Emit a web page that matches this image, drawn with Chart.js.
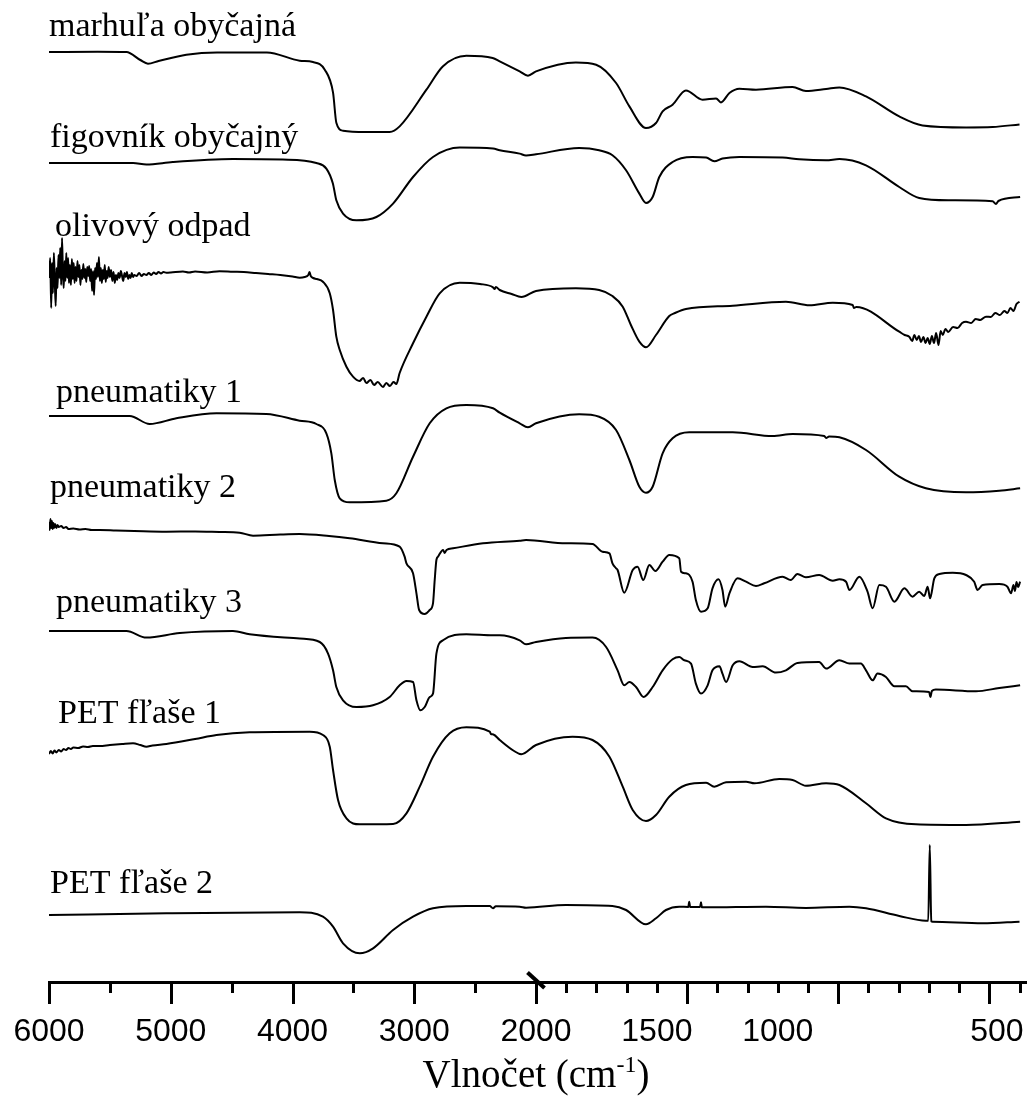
<!DOCTYPE html>
<html lang="sk">
<head>
  <meta charset="UTF-8" />
  <title>IR spektrá</title>
  <script src="https://cdn.jsdelivr.net/npm/chart.js"></script>
  <style>
    html, body { margin: 0; padding: 0; background: #fff; }
    #wrap { width: 1027px; height: 1097px; position: relative; }
  </style>
</head>
<body>
  <div id="wrap"><canvas id="spectra"></canvas></div>

  <script>
    // sample names, top to bottom
    const names = ['marhuľa obyčajná', 'figovník obyčajný', 'olivový odpad', 'pneumatiky 1',
                   'pneumatiky 2', 'pneumatiky 3', 'PET fľaše 1', 'PET fľaše 2'];

    // vertical offset of each spectrum (arbitrary units)
    const offsets = [930, 819, 709, 566, 457, 351, 232, 67];

    // [wavenumber cm-1, relative transmittance]
    const marhula = [[6000,0],[5600,0.3],[5364,0],[5250,-8],[5187,-11.7],[5100,-9],[4872,-2.7],[4620,-0.4],[4210,-0.4],
      [3941,-8.7],[3832,-10],[3735,-17.7],[3667,-40.7],[3640,-70.7],[3585,-78.7],[3400,-80],[3202,-80],[3120,-74.4],
      [2900,-37.7],[2766,-14.4],[2572,-3.7],[2356,-6],[2298,-9.4],[2134,-19.4],[2066,-23.7],[2000,-19.4],[1868,-10.4],
      [1801,-12.7],[1735,-31],[1691,-54.4],[1636,-76],[1603,-71],[1581,-59.4],[1548,-52.7],[1504,-38.4],[1449,-47.7],
      [1404,-46.4],[1388,-50.4],[1360,-41],[1327,-36.7],[1272,-37.7],[1151,-35],[1107,-39],[1040,-37],[996,-35.4],
      [908,-44.4],[798,-64.4],[721,-73.4],[577,-75.4],[489,-75],[400,-72.4]];

    const figovnik = [[6000,0],[5310,0],[5200,-1.6],[4984,1],[4490,4],[4080,3.4],[3804,0],[3722,-5.6],[3669,-20.3],
      [3640,-37.3],[3585,-50.6],[3475,-57.3],[3311,-54],[3174,-40.6],[3010,-14],[2846,6],[2627,15.4],[2353,14.4],
      [2298,12.7],[2134,9.4],[2082,7.4],[2000,8.7],[1857,15],[1791,12.7],[1747,7.7],[1702,-7.3],[1658,-30.6],
      [1636,-40],[1614,-34],[1592,-14],[1548,1],[1482,6],[1437,5.4],[1410,1.7],[1383,4.4],[1327,6],[1184,5.4],
      [1129,3.7],[1040,2.7],[996,4],[908,-2.3],[798,-24],[732,-35],[632,-37.3],[489,-38.3],[478,-41],[470,-38],[398,-34]];

    const olivovy = [[6000,-5],[5990,15],[5982,-35],[5975,10],[5968,-20],[5960,20],[5952,-10],[5945,-33],[5938,5],
      [5930,-15],[5922,18],[5915,-5],[5908,25],[5900,-12],[5893,35],[5886,0],[5879,-15],[5872,12],[5865,-8],[5858,20],
      [5850,-5],[5843,15],[5836,-10],[5828,8],[5820,-12],[5812,14],[5805,-6],[5797,10],[5790,-10],[5782,6],[5774,-8],
      [5766,12],[5758,-4],[5750,8],[5742,-12],[5734,3],[5726,-6],[5718,9],[5710,-5],[5702,4],[5694,-9],[5686,6],
      [5678,-3],[5670,7],[5662,-8],[5654,4],[5646,-18],[5638,2],[5630,-22],[5622,5],[5614,-6],[5606,10],[5598,-4],
      [5590,16],[5582,-8],[5574,5],[5566,-10],[5558,3],[5550,-6],[5542,8],[5534,-9],[5526,2],[5518,-5],[5510,6],
      [5500,-4],[5490,3],[5480,-8],[5470,1],[5460,-10],[5450,-2],[5440,-7],[5430,0],[5420,-5],[5410,2],[5400,-3],
      [5390,-8],[5380,0],[5370,-4],[5360,1],[5350,-6],[5340,-2],[5330,-5],[5320,0],[5310,-4],[5300,-2],[5280,-3],
      [5260,0],[5240,-3],[5220,-1],[5200,-2],[5180,0],[5160,-2],[5140,0.5],[5120,-1],[5100,1],[5080,-0.5],[5060,1],
      [5036,0.3],[5000,0.5],[4900,1.5],[4850,0.5],[4800,1.5],[4700,0.5],[4600,1.8],[4490,1.3],[4400,1],[4300,0],
      [4200,-1],[4100,-2],[4000,-3.5],[3941,-4.7],[3900,-4],[3870,-2],[3860,1],[3850,-3],[3830,-5],[3800,-6],
      [3750,-8.7],[3694,-20.3],[3667,-37],[3640,-63.7],[3612,-77],[3557,-93.7],[3503,-103.7],[3450,-108],[3420,-105],
      [3393,-110],[3360,-107],[3330,-112],[3300,-109],[3257,-114],[3230,-110],[3200,-113],[3170,-109],[3147,-111],
      [3120,-100],[3010,-70.3],[2900,-43.7],[2791,-20.3],[2627,-9.7],[2460,-11],[2353,-14.3],[2340,-16],[2330,-14],
      [2298,-17],[2200,-21],[2120,-24],[2000,-18],[1868,-15.3],[1791,-17],[1747,-23],[1713,-33.7],[1686,-52],
      [1658,-68.7],[1636,-74.3],[1603,-62],[1559,-43],[1540,-40],[1504,-36],[1349,-32.7],[1173,-28.7],[1095,-32.3],
      [1018,-29.7],[952,-32],[948,-35],[940,-34],[798,-58.7],[780,-62],[765,-63.7],[755,-68],[748,-62],[740,-67],
      [733,-63],[726,-69],[718,-64],[711,-70],[704,-65],[697,-71],[690,-63],[683,-70],[676,-60],[668,-72],[661,-58],
      [654,-62],[645,-56],[636,-59],[620,-54],[605,-55],[590,-50],[577,-48.7],[560,-50],[545,-46],[530,-47],
      [511,-43.7],[495,-44],[480,-40],[465,-42],[450,-38],[440,-40],[430,-35],[420,-38],[410,-31],[400,-28.7]];

    const pneu1 = [[6000,0],[5337,0],[5173,-8],[4954,-2.3],[4625,2.7],[4215,2],[3941,-4.7],[3804,-8],[3722,-17.3],
      [3681,-37.3],[3653,-64],[3612,-82.3],[3530,-86.3],[3229,-84.7],[3147,-77.3],[3010,-40.7],[2873,-7.3],[2736,7.7],
      [2572,11],[2353,7.7],[2298,3.3],[2134,-7.3],[2066,-11.3],[2000,-7.3],[1857,1.7],[1791,-0.7],[1735,-14],
      [1691,-44],[1658,-70.7],[1636,-76.7],[1614,-70.7],[1581,-37.3],[1548,-22.3],[1493,-16.3],[1349,-16.3],
      [1217,-20],[1151,-18],[1046,-20],[1040,-22],[1030,-20.5],[996,-21.3],[908,-34],[798,-60.7],[710,-72.3],
      [577,-76.3],[467,-74.7],[398,-72.3]];

    const pneu2 = [[6000,3],[5994,-5],[5988,6],[5982,-3],[5976,4],[5970,-4],[5964,2],[5958,-3],[5950,1],[5940,-3],
      [5930,0],[5920,-2],[5900,-1],[5880,-3],[5860,-2],[5840,-4],[5800,-3.5],[5750,-4.5],[5700,-4],[5650,-5],
      [5583,-5],[5450,-5.5],[5300,-6],[5036,-6.7],[4800,-6.5],[4600,-7],[4434,-7.7],[4324,-10.7],[4100,-9.5],
      [3941,-9],[3700,-11],[3530,-13.3],[3257,-18.3],[3120,-21.7],[3079,-31.7],[3064,-38.3],[3010,-48.3],
      [2982,-68.3],[2960,-85],[2914,-89],[2873,-85],[2846,-78.3],[2832,-55],[2818,-35],[2805,-31.7],[2763,-25],
      [2750,-28],[2735,-25],[2681,-23.3],[2435,-18.3],[2134,-15.7],[2082,-15],[1901,-18.3],[1813,-19],[1780,-26.7],
      [1757,-28.3],[1747,-38.3],[1735,-43.3],[1730,-45],[1708,-67.7],[1680,-45],[1664,-41.7],[1645,-55],[1625,-40],
      [1605,-46],[1581,-36.7],[1559,-30],[1526,-33.3],[1520,-46.7],[1504,-48.3],[1482,-56.7],[1471,-75],[1454,-86.7],
      [1432,-83.3],[1416,-63.3],[1396,-54.3],[1383,-65],[1374,-81.7],[1360,-68.3],[1333,-53.3],[1305,-56.7],
      [1272,-61],[1245,-58.3],[1184,-51.7],[1157,-55],[1135,-49],[1107,-52.3],[1063,-50],[1018,-55.7],[996,-54.3],
      [974,-56.7],[963,-65],[930,-51.7],[903,-66.7],[886,-83.3],[864,-60],[842,-61.7],[814,-76.7],[781,-63.3],
      [754,-71.7],[732,-66.7],[715,-71],[704,-61.7],[696,-73.3],[682,-53.3],[665,-49],[621,-47.7],[577,-50],
      [550,-56.7],[539,-65],[522,-60],[467,-59],[440,-61.7],[428,-68.3],[420,-60],[415,-66],[410,-57],[405,-62],
      [398,-56.7]];

    const pneu3 = [[6000,0],[5364,0],[5200,-6.6],[4926,-2],[4489,0],[4352,-3.3],[3941,-7.6],[3776,-11],[3708,-22.6],
      [3667,-39.3],[3640,-56],[3585,-69.3],[3475,-76],[3339,-74.3],[3202,-66],[3120,-54.3],[3064,-50],[3010,-51],
      [2982,-69.3],[2950,-79.3],[2914,-76],[2873,-66],[2846,-62.6],[2818,-22.6],[2764,-9.3],[2572,-3.3],[2353,-4.3],
      [2298,-4.3],[2134,-9.3],[2082,-13.3],[2000,-11],[1901,-7],[1813,-6.6],[1768,-16],[1730,-39.3],[1708,-54.3],
      [1691,-51],[1669,-56],[1644,-66],[1614,-56],[1581,-39.3],[1548,-28.3],[1526,-26],[1509,-29.3],[1487,-32.6],
      [1471,-52.6],[1454,-62.6],[1432,-54.3],[1416,-39.3],[1393,-35.3],[1383,-42.6],[1371,-51],[1349,-34.3],
      [1327,-30.3],[1283,-36],[1250,-35.3],[1206,-41.6],[1173,-39.3],[1135,-32],[1063,-31],[1040,-37.6],[996,-29.3],
      [963,-32.6],[925,-32.6],[908,-39.3],[886,-49.3],[870,-42.6],[842,-46],[814,-55.3],[776,-55.3],[754,-60.3],
      [699,-61],[695,-66],[690,-60],[677,-58.6],[544,-60.3],[467,-57],[398,-54.3]];

    const pet1 = [[6000,-4],[5985,-1],[5970,-3.5],[5955,-0.5],[5940,-2.5],[5920,0],[5900,-1.5],[5880,1],[5860,0],
      [5840,2],[5820,1],[5800,2.5],[5760,2],[5720,3.5],[5680,3],[5640,4],[5584,4],[5500,5],[5400,6],[5310,6.7],
      [5250,5],[5200,3.3],[5150,4.5],[5036,6],[4800,11],[4625,15],[4352,17.7],[3859,18.3],[3750,15],[3694,3.3],
      [3667,-20],[3626,-50],[3557,-68.3],[3447,-74.3],[3174,-74],[3064,-63.3],[2955,-36.7],[2846,-6.7],[2709,16.7],
      [2572,22.7],[2380,18.3],[2370,16],[2350,15.5],[2298,10],[2180,-1],[2121,-4.3],[2000,5],[1879,13.3],[1813,10],
      [1757,-6.7],[1713,-36.7],[1680,-60],[1636,-71],[1603,-65],[1559,-46.7],[1504,-35],[1437,-32.7],[1410,-36.7],
      [1371,-32.3],[1305,-31.7],[1277,-33.3],[1195,-29],[1151,-30],[1107,-35.7],[1040,-33.3],[996,-35],[908,-53.3],
      [842,-68.3],[743,-74.3],[577,-75],[398,-71.7]];

    const pet2 = [[6000,0],[5036,1.7],[3941,2.7],[3750,-1.7],[3667,-11.7],[3585,-28.3],[3447,-38.3],[3338,-33.3],
      [3174,-15],[3010,-1.7],[2846,6.7],[2572,9],[2380,9],[2353,6.7],[2330,8.7],[2134,8.3],[2082,7.3],[1901,10],
      [1747,9],[1702,5],[1636,-9.3],[1603,-3.3],[1570,5],[1526,8.3],[1496,8],[1493,13.3],[1490,8],[1457,8],
      [1454,12.7],[1451,7.7],[1437,7.7],[1239,8.3],[1107,7],[963,8.3],[908,6.7],[798,-1],[710,-5.7],[702,-5.7],
      [697,70],[692,-6.3],[688,-6.7],[522,-8.3],[400,-6.7]];

    const spectra = [marhula, figovnik, olivovy, pneu1, pneu2, pneu3, pet1, pet2];

    // axis ticks (cm-1); the axis is broken at 2000
    const majorTicks = [6000, 5000, 4000, 3000, 2000, 1500, 1000, 500];
    const minorTicks = [5500, 4500, 3500, 2500, 1900, 1800, 1700, 1600, 1400, 1300, 1200, 1100,
                        900, 800, 700, 600, 400];
    // where the printed tick numbers sit along the axis (as in the original figure)
    const tickLabels = ['6000', '5000', '4000', '3000', '2000', '1500', '1000', '500'];
    const tickLabelAt = [6000, 5000, 4000, 3000, 2000, 1600, 1200, 475];

    // broken axis: 6000-2000 compressed, 2000-380 expanded
    function toAxis(w) {
      return w >= 2000 ? (6000 - w) * 0.12175 : 487 + (2000 - w) * 0.3022;
    }

    // label placement relative to the start of each trace (px)
    const labelShift = [[0, 16], [1, 16], [6, 37], [7, 14], [1, 28], [7, 19], [9, 27], [1, 22]];

    const decor = {
      id: 'decor',
      afterDraw(chart) {
        const { ctx, chartArea } = chart;
        const x = chart.scales.x, y = chart.scales.y;
        const base = chartArea.bottom;
        ctx.save();
        ctx.strokeStyle = '#000';
        ctx.lineWidth = 3;
        const tick = (w, len) => {
          const px = Math.round(x.getPixelForValue(toAxis(w))) + 0.5;
          ctx.beginPath();
          ctx.moveTo(px, base);
          ctx.lineTo(px, base + len);
          ctx.stroke();
        };
        majorTicks.forEach(w => tick(w, 22));
        minorTicks.forEach(w => tick(w, 11));
        // break mark
        const bx = x.getPixelForValue(toAxis(2000));
        ctx.lineWidth = 4;
        ctx.beginPath();
        ctx.moveTo(bx - 8.5, base - 9.5);
        ctx.lineTo(bx + 8.5, base + 6);
        ctx.stroke();

        // sample names
        ctx.fillStyle = '#000';
        ctx.font = '34px "Liberation Serif"';
        ctx.textBaseline = 'alphabetic';
        ctx.textAlign = 'left';
        names.forEach((n, i) => {
          ctx.fillText(n, x.getPixelForValue(0) + labelShift[i][0],
                       y.getPixelForValue(offsets[i]) - labelShift[i][1]);
        });

        // axis title with superscript
        const main = 'Vlnočet (cm', sup = '-1', end = ')';
        const bigFont = '39px "Liberation Serif"', smallFont = '24px "Liberation Serif"';
        ctx.font = bigFont;
        const w1 = ctx.measureText(main).width, w3 = ctx.measureText(end).width;
        ctx.font = smallFont;
        const w2 = ctx.measureText(sup).width;
        const tx = x.getPixelForValue(toAxis(2000)) - (w1 + w2 + w3) / 2;
        const ty = 1087;
        ctx.font = bigFont;
        ctx.fillText(main, tx, ty);
        ctx.font = smallFont;
        ctx.fillText(sup, tx + w1, ty - 15);
        ctx.font = bigFont;
        ctx.fillText(end, tx + w1 + w2, ty);
        ctx.restore();
      }
    };

    const datasets = spectra.map((s, i) => ({
      label: names[i],
      data: s.map(([w, v]) => ({ x: toAxis(w), y: offsets[i] + v })),
      borderColor: '#000',
      borderWidth: 2,
      pointRadius: 0,
      fill: false,
      cubicInterpolationMode: 'monotone'
    }));

    new Chart(document.getElementById('spectra'), {
      type: 'line',
      data: { datasets },
      options: {
        responsive: true,
        maintainAspectRatio: false,
        animation: false,
        devicePixelRatio: 1,
        layout: { padding: { left: 49, right: 1, top: 0, bottom: 0 } },
        plugins: { legend: { display: false }, tooltip: { enabled: false } },
        scales: {
          x: {
            type: 'linear',
            min: 0,
            max: 977,
            afterFit(scale) {
              scale.height = 115;
              scale.paddingLeft = 0;
              scale.paddingRight = 0;
            },
            afterBuildTicks(scale) {
              scale.ticks = tickLabelAt.map(w => ({ value: toAxis(w) }));
            },
            ticks: {
              autoSkip: false,
              maxRotation: 0,
              padding: 9,
              color: '#000',
              font: { family: '"Liberation Sans", Arial, sans-serif', size: 32 },
              callback: (v, i) => tickLabels[i]
            },
            grid: {
              display: true,
              drawOnChartArea: false,
              drawTicks: true,
              tickLength: 22,
              tickColor: 'rgba(0,0,0,0)'
            },
            border: { display: true, width: 3, color: '#000' }
          },
          y: {
            display: false,
            min: 0,
            max: 982
          }
        }
      },
      plugins: [decor]
    });
  </script>
</body>
</html>
